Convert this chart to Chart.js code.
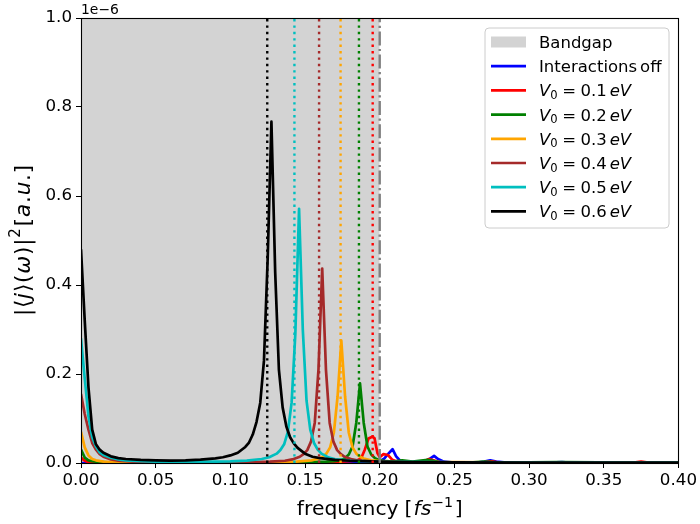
<!DOCTYPE html>
<html><head><meta charset="utf-8">
<script src="https://cdn.jsdelivr.net/npm/chart.js@4.4.0/dist/chart.umd.min.js"></script>
<style>html,body{margin:0;padding:0;background:#fff;}canvas{display:block;}</style>
</head><body>
<canvas id="c" width="700" height="524" style="width:700px;height:524px"></canvas>
<script>
// ---------------- data (amplitudes in units of 1e-6) ----------------
const xTicks = [0, 0.05, 0.10, 0.15, 0.20, 0.25, 0.30, 0.35, 0.40];
const yTicks = [0, 0.2, 0.4, 0.6, 0.8, 1.0];
const bandgap = [0, 0.2];
const bandEdge = 0.2;
const resonanceFreqs = [0.1953, 0.1861, 0.1738, 0.1594, 0.1429, 0.1247]; // V0 = 0.1 ... 0.6 eV
const legendLabels = ['Bandgap', 'Interactions off', '0.1', '0.2', '0.3', '0.4', '0.5', '0.6'];

const freqOff = [0, 0.1, 0.19, 0.195, 0.2, 0.203, 0.2055, 0.2086, 0.211, 0.214, 0.22, 0.228, 0.233, 0.2364, 0.239, 0.243, 0.25, 0.265, 0.27, 0.274, 0.278, 0.285, 0.31, 0.322, 0.33, 0.37, 0.375, 0.38, 0.4];
const ampOff  = [0, 0, 0, 0.001, 0.004, 0.01, 0.02, 0.031, 0.015, 0.004, 0.001, 0.002, 0.008, 0.016, 0.009, 0.003, 0.001, 0.001, 0.003, 0.006, 0.003, 0.001, 0.0005, 0.002, 0.0005, 0.001, 0.0015, 0.0005, 0];

const freqV01 = [0, 0.0025, 0.005, 0.01, 0.05, 0.1, 0.15, 0.17, 0.18, 0.185, 0.1875, 0.19, 0.1925, 0.195, 0.1965, 0.1985, 0.2, 0.2025, 0.2055, 0.2085, 0.211, 0.215, 0.225, 0.23, 0.233, 0.236, 0.24, 0.25, 0.27, 0.275, 0.28, 0.32, 0.37, 0.375, 0.38, 0.4];
const ampV01  = [0.012, 0.005, 0.002, 0.001, 0.0003, 0.0005, 0.001, 0.002, 0.004, 0.006, 0.01, 0.03, 0.055, 0.059, 0.056, 0.022, 0.013, 0.02, 0.018, 0.007, 0.004, 0.003, 0.002, 0.004, 0.009, 0.006, 0.002, 0.001, 0.002, 0.004, 0.001, 0.001, 0.001, 0.003, 0.001, 0.0005];

const freqV02 = [0, 0.0025, 0.005, 0.0075, 0.01, 0.02, 0.05, 0.1, 0.15, 0.1643, 0.1693, 0.1743, 0.1768, 0.1793, 0.1818, 0.1843, 0.1868, 0.1893, 0.1918, 0.1943, 0.1968, 0.1993, 0.2043, 0.2093, 0.215, 0.222, 0.232, 0.24, 0.26, 0.27, 0.28, 0.32, 0.4];
const ampV02  = [0.03, 0.012, 0.006, 0.004, 0.003, 0.001, 0.0005, 0.0008, 0.0015, 0.003, 0.004, 0.007, 0.011, 0.019, 0.037, 0.09, 0.179, 0.09, 0.037, 0.019, 0.011, 0.007, 0.004, 0.003, 0.006, 0.003, 0.007, 0.002, 0.001, 0.003, 0.001, 0.002, 0.0005];

const freqV03 = [0, 0.0025, 0.005, 0.0075, 0.01, 0.015, 0.02, 0.03, 0.05, 0.1, 0.1243, 0.1343, 0.1443, 0.1543, 0.1593, 0.1618, 0.1643, 0.1668, 0.1693, 0.1718, 0.1743, 0.1768, 0.1793, 0.1818, 0.1843, 0.1868, 0.1893, 0.1943, 0.2043, 0.2143, 0.2243, 0.25, 0.3, 0.4];
const ampV03  = [0.07, 0.035, 0.017, 0.009, 0.006, 0.003, 0.002, 0.001, 0.0008, 0.001, 0.0015, 0.002, 0.003, 0.006, 0.01, 0.014, 0.021, 0.035, 0.068, 0.15, 0.275, 0.15, 0.068, 0.035, 0.021, 0.014, 0.01, 0.006, 0.003, 0.002, 0.0015, 0.002, 0.001, 0.0005];

const freqV04 = [0, 0.0025, 0.005, 0.0075, 0.01, 0.0125, 0.015, 0.02, 0.025, 0.03, 0.04, 0.06, 0.1, 0.1165, 0.1265, 0.1365, 0.1415, 0.1465, 0.149, 0.1515, 0.154, 0.1565, 0.159, 0.1615, 0.164, 0.1665, 0.169, 0.1715, 0.174, 0.1765, 0.1815, 0.1865, 0.1965, 0.2065, 0.25, 0.3, 0.4];
const ampV04  = [0.155, 0.11, 0.075, 0.045, 0.03, 0.02, 0.014, 0.008, 0.005, 0.004, 0.002, 0.0015, 0.0015, 0.002, 0.003, 0.005, 0.008, 0.014, 0.02, 0.029, 0.048, 0.09, 0.21, 0.437, 0.21, 0.09, 0.048, 0.029, 0.02, 0.014, 0.008, 0.005, 0.003, 0.002, 0.001, 0.001, 0.0005];

const freqV05 = [0, 0.0025, 0.005, 0.0075, 0.01, 0.0125, 0.015, 0.02, 0.025, 0.03, 0.04, 0.05, 0.07, 0.09, 0.1, 0.111, 0.121, 0.126, 0.131, 0.1335, 0.136, 0.1385, 0.141, 0.1435, 0.146, 0.1485, 0.151, 0.1535, 0.156, 0.1585, 0.161, 0.166, 0.171, 0.181, 0.2, 0.25, 0.3, 0.4];
const ampV05  = [0.28, 0.19, 0.105, 0.058, 0.037, 0.024, 0.018, 0.012, 0.008, 0.006, 0.004, 0.003, 0.0025, 0.003, 0.0035, 0.0055, 0.009, 0.013, 0.021, 0.029, 0.042, 0.07, 0.135, 0.29, 0.571, 0.30, 0.14, 0.075, 0.045, 0.03, 0.021, 0.012, 0.008, 0.005, 0.003, 0.0015, 0.001, 0.001];

const freqV06 = [0, 0.0025, 0.005, 0.0075, 0.01, 0.0125, 0.015, 0.02, 0.025, 0.03, 0.04, 0.05, 0.06, 0.07, 0.08, 0.09, 0.095, 0.1, 0.105, 0.11, 0.1125, 0.115, 0.1175, 0.12, 0.1225, 0.125, 0.1275, 0.13, 0.1325, 0.135, 0.1375, 0.14, 0.1425, 0.145, 0.15, 0.155, 0.16, 0.17, 0.18, 0.19, 0.2, 0.22, 0.25, 0.3, 0.35, 0.4];
const ampV06  = [0.48, 0.32, 0.17, 0.075, 0.042, 0.03, 0.023, 0.015, 0.011, 0.009, 0.007, 0.006, 0.0055, 0.006, 0.0075, 0.0105, 0.013, 0.017, 0.023, 0.036, 0.046, 0.064, 0.092, 0.135, 0.23, 0.46, 0.767, 0.43, 0.21, 0.125, 0.082, 0.058, 0.044, 0.034, 0.021, 0.014, 0.011, 0.007, 0.005, 0.004, 0.003, 0.002, 0.0015, 0.001, 0.001, 0.001];

// ---------------- chart ----------------
const FONT = '"DejaVu Sans", sans-serif';
const TICK_SIZE = 16.7, LEG_SIZE = 16.5, LAB_SIZE = 20.3, YLAB_SIZE = 21.5;
const LINE_W = 2.7;
const yMax = yTicks[yTicks.length - 1];

const series = [
  { f: freqOff, a: ampOff, color: '#0000ff' },
  { f: freqV01, a: ampV01, color: '#ff0000' },
  { f: freqV02, a: ampV02, color: '#008000' },
  { f: freqV03, a: ampV03, color: '#ffa500' },
  { f: freqV04, a: ampV04, color: '#a52a2a' },
  { f: freqV05, a: ampV05, color: '#00bfbf' },
  { f: freqV06, a: ampV06, color: '#000000' }
];
function zip(xs, ys) { return xs.map((x, i) => ({ x: x, y: ys[i] })); }

const datasets = [];
datasets.push({ data: [{ x: bandgap[0], y: yMax }, { x: bandgap[1], y: yMax }], showLine: true, fill: 'origin',
  backgroundColor: '#d3d3d3', borderWidth: 0, borderColor: 'rgba(0,0,0,0)', pointRadius: 0, order: 100 });
series.forEach((s, i) => datasets.push({ data: zip(s.f, s.a), showLine: true, fill: false, borderColor: s.color,
  borderWidth: LINE_W, borderJoinStyle: 'round', borderCapStyle: 'butt', pointRadius: 0, tension: 0, order: 60 - i }));
resonanceFreqs.forEach((r, i) => datasets.push({ data: [{ x: r, y: 0 }, { x: r, y: yMax }], showLine: true, fill: false,
  borderColor: series[i + 1].color, borderWidth: 2.4, borderDash: [2.4, 4.0], pointRadius: 0, order: 30 - i }));
datasets.push({ data: [{ x: bandEdge, y: 0 }, { x: bandEdge, y: yMax }], showLine: true, fill: false,
  borderColor: '#808080', borderWidth: 2.4, borderDash: [14, 3.5, 2.2, 3.5], pointRadius: 0, order: 10 });

function segFont(s) { return (s.it ? 'italic ' : '') + s.size + 'px ' + FONT; }
function richWidth(ctx, segs) {
  let w = 0;
  segs.forEach(s => { ctx.font = segFont(s); w += (s.pre || 0) + ctx.measureText(s.t).width; });
  return w;
}
function drawRich(ctx, segs, x, y, align) {
  const w = richWidth(ctx, segs);
  let cx = align === 'center' ? x - w / 2 : x;
  ctx.textBaseline = 'alphabetic';
  ctx.textAlign = 'left';
  segs.forEach(s => {
    cx += s.pre || 0;
    ctx.font = segFont(s);
    ctx.fillText(s.t, cx, y + (s.dy || 0));
    cx += ctx.measureText(s.t).width;
  });
}

const decor = {
  id: 'decor',
  afterDatasetsDraw(chart) {
    const ctx = chart.ctx, a = chart.chartArea;
    ctx.save();
    // frame
    ctx.strokeStyle = '#000'; ctx.lineWidth = 1.1;
    ctx.strokeRect(Math.round(a.left) + 0.5, Math.round(a.top) + 0.5, Math.round(a.right - a.left), Math.round(a.bottom - a.top));
    // legend
    const L = { x: 485, y: 28, w: 184, h: 200, r: 4 };
    ctx.beginPath();
    ctx.moveTo(L.x + L.r, L.y);
    ctx.arcTo(L.x + L.w, L.y, L.x + L.w, L.y + L.h, L.r);
    ctx.arcTo(L.x + L.w, L.y + L.h, L.x, L.y + L.h, L.r);
    ctx.arcTo(L.x, L.y + L.h, L.x, L.y, L.r);
    ctx.arcTo(L.x, L.y, L.x + L.w, L.y, L.r);
    ctx.closePath();
    ctx.fillStyle = 'rgba(255,255,255,0.8)'; ctx.fill();
    ctx.strokeStyle = '#cccccc'; ctx.lineWidth = 1; ctx.stroke();
    const y0 = 42, dy = 24.2, hx0 = 491, hx1 = 526, tx = 539;
    legendLabels.forEach((lab, i) => {
      const cy = y0 + i * dy;
      if (i === 0) {
        ctx.fillStyle = '#d3d3d3'; ctx.fillRect(hx0, cy - 5.5, hx1 - hx0, 11);
      } else {
        ctx.strokeStyle = series[i - 1].color; ctx.lineWidth = LINE_W; ctx.setLineDash([]);
        ctx.beginPath(); ctx.moveTo(hx0, cy); ctx.lineTo(hx1, cy); ctx.stroke();
      }
      ctx.fillStyle = '#000';
      let segs;
      if (i === 0) segs = [{ t: lab, size: LEG_SIZE }];
      else if (i === 1) segs = [{ t: 'Interactions', size: LEG_SIZE }, { t: 'off', size: LEG_SIZE, pre: 3 }];
      else segs = [{ t: 'V', it: true, size: LEG_SIZE }, { t: '0', size: LEG_SIZE * 0.7, dy: 2.5 },
                   { t: '=', size: LEG_SIZE, pre: 4.5 }, { t: lab, size: LEG_SIZE, pre: 4.5 },
                   { t: 'eV', it: true, size: LEG_SIZE, pre: 3 }];
      drawRich(ctx, segs, tx, cy + 6, 'left');
    });
    // offset text
    ctx.fillStyle = '#000';
    drawRich(ctx, [{ t: '1e\u22126', size: 13.9 }], a.left, a.top - 4, 'left');
    // x title
    drawRich(ctx, [{ t: 'frequency', size: LAB_SIZE }, { t: '[', size: LAB_SIZE, pre: 6 },
      { t: 'fs', it: true, size: LAB_SIZE, pre: 1 }, { t: '\u22121', size: LAB_SIZE * 0.7, dy: -8.5, pre: 1 },
      { t: ']', size: LAB_SIZE, pre: 1.5 }], (a.left + a.right) / 2, 515, 'center');
    // y title
    const S = YLAB_SIZE, g = 0.8;
    ctx.translate(22, (a.top + a.bottom) / 2);
    ctx.rotate(-Math.PI / 2);
    drawRich(ctx, [{ t: '|', size: S }, { t: '\u27e8', size: S, pre: g }, { t: 'j', it: true, size: S, pre: g },
      { t: '\u27e9', size: S, pre: g }, { t: '(', size: S, pre: g },
      { t: '\u03c9', it: true, size: S, pre: g }, { t: ')', size: S, pre: g }, { t: '|', size: S, pre: g },
      { t: '2', size: S * 0.7, dy: -9.5, pre: g },
      { t: '[', size: S, pre: 2 }, { t: 'a', it: true, size: S, pre: g }, { t: '.', size: S, pre: g },
      { t: 'u', it: true, size: S, pre: g }, { t: '.', size: S, pre: g }, { t: ']', size: S, pre: g }], 0, 7.5, 'center');
    ctx.restore();
  }
};

new Chart(document.getElementById('c'), {
  type: 'scatter',
  data: { datasets: datasets },
  options: {
    responsive: false, animation: false, devicePixelRatio: 1,
    layout: { padding: { top: 18, right: 20, left: 0, bottom: 0 } },
    plugins: { legend: { display: false }, tooltip: { enabled: false } },
    scales: {
      x: {
        type: 'linear', min: xTicks[0], max: xTicks[xTicks.length - 1],
        afterBuildTicks: s => { s.ticks = xTicks.map(v => ({ value: v })); },
        afterFit: s => { s.height = 61; },
        ticks: { autoSkip: false, maxRotation: 0, padding: 3, color: '#000', font: { family: FONT, size: TICK_SIZE },
          callback: v => Number(v).toFixed(2) },
        grid: { display: true, drawOnChartArea: false, drawTicks: true, tickLength: 5, color: '#000', tickWidth: 1 },
        border: { display: false }
      },
      y: {
        type: 'linear', min: yTicks[0], max: yMax,
        afterBuildTicks: s => { s.ticks = yTicks.map(v => ({ value: v })); },
        afterFit: s => { s.width = 81; },
        ticks: { autoSkip: false, padding: 4, color: '#000', font: { family: FONT, size: TICK_SIZE },
          callback: v => Number(v).toFixed(1) },
        grid: { display: true, drawOnChartArea: false, drawTicks: true, tickLength: 5, color: '#000', tickWidth: 1 },
        border: { display: false }
      }
    }
  },
  plugins: [decor]
});
</script>
</body></html>
